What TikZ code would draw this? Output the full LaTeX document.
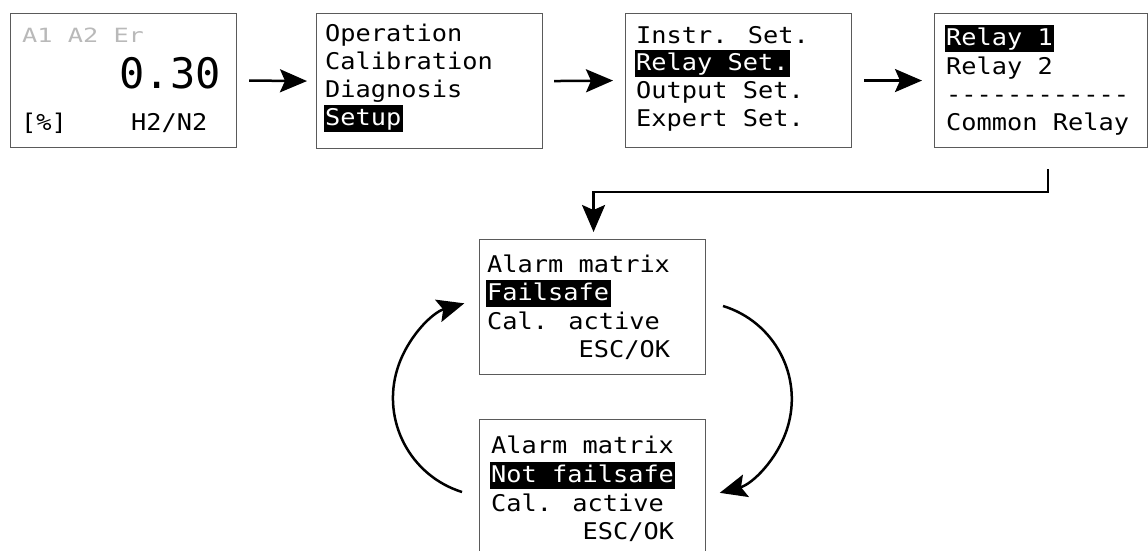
\documentclass[tikz,border=0pt]{standalone}
\usepackage{fontspec}
\usetikzlibrary{arrows.meta,calc}
\newfontfamily\mono[FakeStretch=1.1]{DejaVu Sans Mono}
\newfontfamily\monow[FakeStretch=1.29]{DejaVu Sans Mono}
\newfontfamily\monob{DejaVu Sans Mono}
\definecolor{lgray}{RGB}{185,185,185}
\definecolor{bordergray}{RGB}{90,90,90}
\newcommand{\dsh}{\mbox{-}}
\begin{document}
\begin{tikzpicture}[x=1pt,y=-1pt,
  box/.style={draw=bordergray,line width=1.1pt,anchor=north west,inner sep=0pt,fill=white},
  txt/.style={font=\mono\fontsize{23}{23}\selectfont,anchor=base west,inner sep=0pt},
  hl/.style={txt,fill=black,text=white,inner xsep=1.5pt,inner ysep=0pt,text height=20pt,text depth=7pt},
  arr/.style={line width=2.5pt,-{Stealth[length=27pt,width=23pt,inset=5pt]}}]
\useasboundingbox (0,0) rectangle (1148,550);
\clip (0,0) rectangle (1148,550);
% boxes
\node[box,minimum width=226pt,minimum height=134pt] (b1) at (10,13) {};
\node[box,minimum width=226pt,minimum height=135pt] (b2) at (316,13) {};
\node[box,minimum width=226pt,minimum height=134pt] (b3) at (625,13) {};
\node[box,minimum width=213pt,minimum height=134pt] (b4) at (934,13) {};
\node[box,minimum width=226pt,minimum height=135pt] (b5) at (479,239) {};
\node[box,minimum width=226pt,minimum height=160pt] (b6) at (479,419) {};
% box 1
\node[font=\monow\fontsize{19.6}{19.6}\selectfont,anchor=base west,inner sep=0pt,text=lgray] (t1a) at (22,42) {A1 A2 Er};
\node[font=\monob\fontsize{42}{42}\selectfont,anchor=base east,inner sep=0pt] (t1b) at (221,88) {0.30};
\node[txt] (t1c) at (21,130) {[\%]};
\node[txt] (t1d) at (131,130) {H2/N2};
% box 2
\node[txt] (t2a) at (325,41) {Operation};
\node[txt] (t2b) at (325,69) {Calibration};
\node[txt] (t2c) at (325,97) {Diagnosis};
\node[hl] (t2d) at (323.5,125) {Setup};
% box 3
\node[txt] (t3a) at (636,43) {Instr. Set.};
\node[hl] (t3b) at (634.5,70) {Relay Set.};
\node[txt] (t3c) at (636,98) {Output Set.};
\node[txt] (t3d) at (636,126) {Expert Set.};
% box 4
\node[hl] (t4a) at (944.5,45) {Relay 1};
\node[txt] (t4b) at (946,74) {Relay 2};
\node[txt] (t4c) at (946,102) {\dsh\dsh\dsh\dsh\dsh\dsh\dsh\dsh\dsh\dsh\dsh\dsh};
\node[txt] (t4d) at (946,130) {Common Relay};
% box 5
\node[txt] (t5a) at (487,272) {Alarm matrix};
\node[hl] (t5b) at (485.5,300) {Failsafe};
\node[txt] (t5c) at (487,329) {Cal. active};
\node[txt] (t5d) at (487,357) {\hphantom{AAAAAA}ESC/OK};
% box 6
\node[txt] (t6a) at (491,453) {Alarm matrix};
\node[hl] (t6b) at (489.5,482) {Not failsafe};
\node[txt] (t6c) at (491,511) {Cal. active};
\node[txt] (t6d) at (491,539) {\hphantom{AAAAAA}ESC/OK};
% connectors
\draw[arr] ([xshift=12pt]b1.east) -- ([xshift=-9pt]b2.west);
\draw[arr] ([xshift=11pt]b2.east) -- ([xshift=-12pt]b3.west);
\draw[arr] ([xshift=12pt]b3.east) -- ([xshift=-12pt]b4.west);
\coordinate (e0) at ($(b4.south)+(7,21)$);
\draw[arr] (e0) -- ++(0,23) -| ($(b5.north)+(1,-7)$);
\coordinate (l0) at (462,492);
\draw[arr] (l0) arc[start angle=252.6,end angle=106,radius=98.5pt];
\coordinate (r0) at (723,306);
\draw[arr] (r0) arc[start angle=73,end angle=-75,radius=97.2pt];
\end{tikzpicture}
\end{document}
